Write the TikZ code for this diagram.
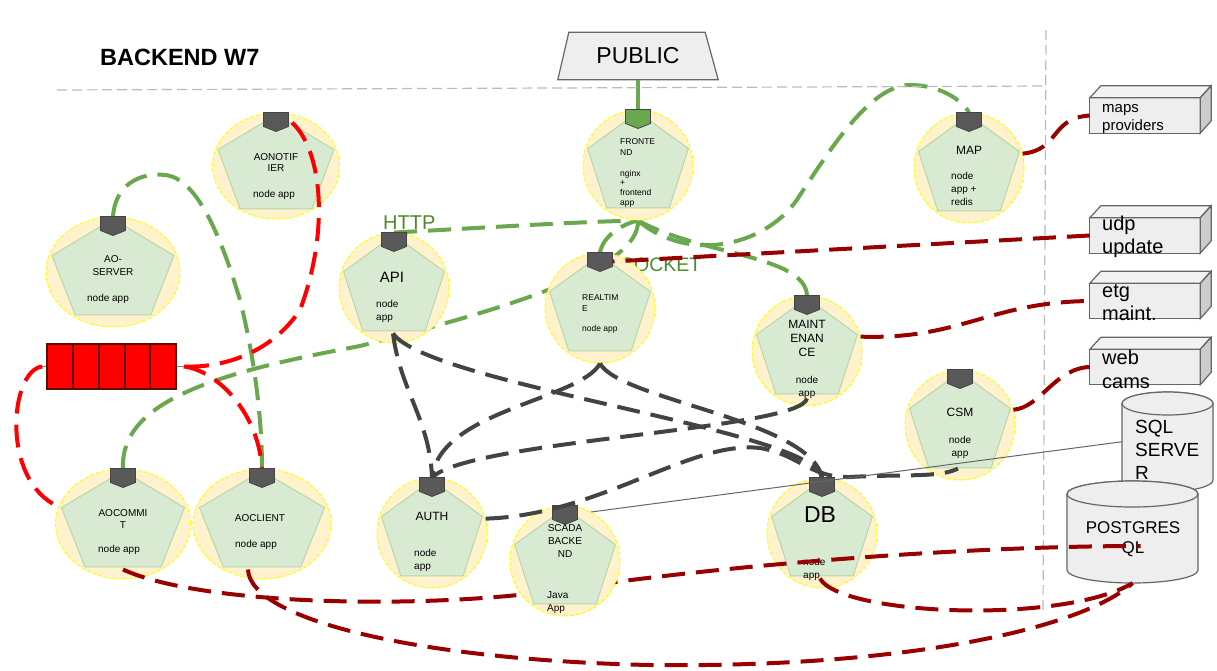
\documentclass[tikz,border=0pt]{standalone}
\usepackage{fontspec}
\setmainfont{Liberation Sans}
\usetikzlibrary{calc,shapes.geometric}
\definecolor{halofill}{HTML}{FFF2CC}
\definecolor{halodraw}{HTML}{FFFF00}
\definecolor{pentfill}{HTML}{D9EAD3}
\definecolor{pentdraw}{HTML}{B6D7A8}
\definecolor{mkfill}{HTML}{595959}
\definecolor{mkdraw}{HTML}{434343}
\definecolor{lgreen}{HTML}{6AA84F}
\definecolor{tgreen}{HTML}{4E8A2A}
\definecolor{dred}{HTML}{990000}
\definecolor{qline}{HTML}{5B0F00}
\definecolor{dgrey}{HTML}{434343}
\definecolor{boxfill}{HTML}{EEEEEE}
\definecolor{boxtop}{HTML}{F3F3F3}
\definecolor{boxside}{HTML}{CCCCCC}
\definecolor{boxdraw}{HTML}{666666}
\definecolor{divcol}{HTML}{BBBBBB}
\pgfdeclarelayer{back}
\pgfsetlayers{back,main}
\newcommand\fsz[2]{\fontsize{#1pt}{#2pt}\selectfont}
\tikzset{
  halo/.style={fill=halofill, draw=halodraw, dash pattern=on 4pt off 2pt, line width=1pt, inner sep=0pt},
  pent/.style={fill=pentfill, draw=pentdraw, line width=1pt},
  mk/.style={draw=mkdraw, line width=0.8pt},
  box/.style={fill=boxfill, draw=boxdraw, line width=1.2pt},
  conn/.style={line width=4pt, dash pattern=on 23pt off 11pt},
  gconn/.style={conn, draw=lgreen},
  rconn/.style={conn, draw=red},
  kconn/.style={conn, draw=dred},
  dconn/.style={conn, draw=dgrey},
  divider/.style={draw=divcol, line width=1.2pt, dash pattern=on 10pt off 5pt},
}
\newcommand\svc[6]{%
  \node[halo, ellipse, minimum width=#3pt, minimum height=#4pt] (#1) at #2 {};
  \begin{scope}[shift={(#1.center)}]
    \filldraw[pent] (0,{-#4/2+2}) -- ({50.4*#5},-16.4) -- ({31.2*#5},42.9) -- ({-31.2*#5},42.9) -- ({-50.4*#5},-16.4) -- cycle;
  \end{scope}
  \begin{scope}[shift={(#1.north)}]
    \filldraw[mk, fill=#6] (-12.5,0) -- (12.5,0) -- (12.5,14) -- (0,19) -- (-12.5,14) -- cycle;
  \end{scope}}
\newcommand\ctext[5]{\node[inner sep=0pt, align=center, font=\fsz{#3}{#4}] (#1) at #2 {#5};}
\newcommand\ltext[5]{\node[inner sep=0pt, align=left, anchor=west, font=\fsz{#3}{#4}] (#1) at #2 {#5};}
\newcommand\tdbox[2]{%
  \node[minimum width=110pt, minimum height=35pt, inner sep=0pt] (#1) at #2 {};
  \filldraw[box] (#1.north west) rectangle (#1.south east);
  \filldraw[box, fill=boxtop] (#1.north west) -- ++(11,-12) -- ++(110,0) -- (#1.north east) -- cycle;
  \filldraw[box, fill=boxside] (#1.north east) -- ++(11,-12) -- ++(0,35) -- (#1.south east) -- cycle;}
\newcommand\cyl[4]{%
  \begin{scope}[shift={(#1.center)}]
    \filldraw[box] (-#2,-#3) -- (-#2,#3) arc[start angle=180, end angle=0, x radius=#2, y radius=#4] -- (#2,-#3) arc[start angle=0, end angle=-180, x radius=#2, y radius=#4] -- cycle;
    \filldraw[box] (0,-#3) ellipse[x radius=#2, y radius=#4];
  \end{scope}}
\begin{document}
\begin{tikzpicture}[x=1pt,y=-1pt]
\useasboundingbox (0,0) rectangle (1217,670);
% title and dividers
\node[anchor=west, inner sep=0pt, font=\bfseries\fsz{23.5}{28}] (title) at (100,57) {BACKEND W7};
\draw[divider] (57,90) -- (1046,86);
\draw[divider] (1046,30) -- (1043,612);
% public
\node[minimum width=160pt, minimum height=47pt, inner sep=0pt, font=\fsz{23}{23}] (pub) at (638,56) {PUBLIC};
\begin{pgfonlayer}{back}
\filldraw[box] ($(pub.north west)+(11,0)$) -- ($(pub.north east)+(-13,0)$) -- (pub.south east) -- (pub.south west) -- cycle;
\end{pgfonlayer}
% external boxes
\tdbox{maps}{(1145,115.5)}
\tdbox{udp}{(1145,235.5)}
\tdbox{etg}{(1145,301)}
\tdbox{web}{(1145,367)}
\ltext{mapsT}{(1102,119)}{15}{18}{maps\\providers}
\ltext{udpT}{(1102,237)}{20}{23}{udp\\update}
\ltext{etgT}{(1102,303)}{20}{23}{etg\\maint.}
\ltext{webT}{(1102,369)}{20}{24}{web\\cams}
% databases
\node[minimum width=91pt, minimum height=99.5pt, inner sep=0pt] (sql) at (1167.5,441.75) {};
\cyl{sql}{45.5}{38.25}{11.5}
\ltext{sqlT}{(1135,450)}{19}{23}{SQL\\SERVE\\R}
\node[minimum width=131pt, minimum height=102pt, inner sep=0pt] (pg) at (1132.5,532) {};
\cyl{pg}{65.5}{38}{13}
\ctext{pgT}{(1133,539)}{17}{20}{POSTGRES\\QL}
% queue
\node[minimum width=129pt, minimum height=45pt, inner sep=0pt, fill=red, draw=qline, line width=1.5pt] (q) at (111.5,366.5) {};
\foreach \qx in {73,99,125,150} \draw[qline, line width=2pt] (\qx,344) -- (\qx,389);
\draw[gray, line width=1pt] (q.west) -- ++(-5,0);
\draw[gray, line width=1pt] (q.east) -- ++(7,0);
% protocol labels
\node[anchor=west, inner sep=0pt, text=tgreen, font=\fsz{20}{20}] (http) at (383,223) {HTTP};
\node[inner sep=0pt, text=tgreen, font=\fsz{19.5}{19.5}] (ws) at (639,265) {WEBSOCKET};
% services
\svc{aonot}{(276,166)}{127}{106}{1.15}{mkfill}
\ctext{aonotT}{(276,162.5)}{10}{11.5}{AONOTIF\\IER}
\ctext{aonotS}{(274,195)}{10}{12}{node app}
\svc{aoserver}{(113,272)}{134}{110}{1.21}{mkfill}
\ctext{aoserverT}{(113,265.5)}{10}{13}{AO-\\SERVER}
\ctext{aoserverS}{(108,299)}{10}{12}{node app}
\svc{aocommit}{(123,524)}{135}{110}{1.22}{mkfill}
\ctext{aocommitT}{(123,519)}{10}{12}{AOCOMMI\\T}
\ctext{aocommitS}{(119,550)}{10}{12}{node app}
\svc{aoclient}{(262,524)}{138}{110}{1.24}{mkfill}
\ctext{aoclientT}{(260,518)}{10}{12}{AOCLIENT}
\ctext{aoclientS}{(256,545)}{10}{12}{node app}
\svc{api}{(394,288)}{110}{110}{1}{mkfill}
\ctext{apiT}{(392,277)}{15}{15}{API}
\ltext{apiS}{(376,311.5)}{10}{13}{node\\app}
\svc{front}{(638,165)}{110}{110}{1}{lgreen}
\ltext{frontT}{(620,147.5)}{8.5}{11}{FRONTE\\ND}
\ltext{frontS}{(620,188.5)}{8.5}{9.7}{nginx\\+\\frontend\\app}
\svc{rt}{(600,308)}{110}{110}{1}{mkfill}
\ltext{rtT}{(582,303.5)}{8.5}{11}{REALTIM\\E}
\ltext{rtS}{(582,329)}{8.5}{10}{node app}
\svc{map}{(969,168)}{110}{110}{1}{mkfill}
\ctext{mapT}{(969,150)}{12}{12}{MAP}
\ltext{mapS}{(951,189)}{10}{13}{node\\app +\\redis}
\svc{maint}{(807,351)}{110}{110}{1}{mkfill}
\ctext{maintT}{(807,338.5)}{12}{14}{MAINT\\ENAN\\CE}
\ctext{maintS}{(807,387)}{10}{13}{node\\app}
\svc{csm}{(960,425)}{110}{110}{1}{mkfill}
\ctext{csmT}{(960,412.5)}{12}{12}{CSM}
\ctext{csmS}{(960,447.5)}{10}{13}{node\\app}
\svc{auth}{(432,533)}{110}{110}{1}{mkfill}
\ctext{authT}{(432,516)}{12}{12}{AUTH}
\ltext{authS}{(414,560.5)}{10}{13}{node\\app}
\svc{db}{(822,533)}{110}{110}{1}{mkfill}
\ctext{dbT}{(820,515)}{23}{23}{DB}
\ltext{dbS}{(803,569.5)}{10}{13}{node\\app}
% connector passing over DB but under SCADA
\draw[kconn] ($(aocommit.south)+(0,-10)$) .. controls (200,605) and (420,610) .. (560,590) .. controls (700,568) and (950,546) .. ($(pg.center)+(8,14)$);
\svc{scada}{(565,561)}{110}{110}{1}{mkfill}
\ctext{scadaT}{(565,541)}{10}{13}{SCADA\\BACKE\\ND}
\ltext{scadaS}{(547,602.5)}{10}{13}{Java\\App}
% connectors under the nodes
\begin{pgfonlayer}{back}
\draw[lgreen, line width=4pt] (pub.south) -- (front.north);
\draw[gconn] (api.north) .. controls (480,228) and (570,222) .. (front.south);
\draw[gconn] (rt.north) .. controls (603,236) and (622,224) .. (front.south);
\draw[gconn] (aocommit.north) .. controls (120,400) and (220,372) .. (360,346) .. controls (500,310) and (640,270) .. (front.south);
\draw[gconn] (front.south) .. controls (700,255) and (805,255) .. (maint.north);
\draw[gconn] (front.south) .. controls (690,265) and (770,245) .. (800,195) .. controls (830,150) and (870,85) .. (910,85) .. controls (940,85) and (962,100) .. (map.north);
\draw[gconn] (aoserver.north) .. controls (115,185) and (140,172) .. (165,175) .. controls (200,178) and (225,250) .. (240,300) .. controls (255,360) and (262,420) .. (aoclient.north);
\draw[rconn] ($(q.east)+(7,0)$) .. controls (215,370) and (258,410) .. (aoclient.north);
\end{pgfonlayer}
% connectors over the nodes
\draw[rconn] ($(aonot.north)+(16,10)$) .. controls (322,150) and (330,230) .. (300,310) .. controls (270,355) and (220,368) .. ($(q.east)+(7,0)$);
\draw[rconn] ($(q.west)+(-4,0)$) .. controls (10,370) and (0,480) .. (aocommit.165);
\draw[dconn] ($(api.south)+(-1,-10)$) .. controls (400,390) and (430,420) .. (auth.north);
\draw[dconn] ($(api.south)+(-1,-10)$) .. controls (430,385) and (815,430) .. (db.north);
\draw[dconn] (rt.south) .. controls (580,400) and (440,410) .. (auth.north);
\draw[dconn] (rt.south) .. controls (620,400) and (810,420) .. (db.north);
\draw[dconn] ($(maint.south)+(0,-8)$) .. controls (800,430) and (470,440) .. (auth.north);
\draw[dconn] (auth.15) .. controls (600,515) and (690,440) .. (760,448) .. controls (800,455) and (810,478) .. (850,477) .. controls (900,474) and (940,478) .. ($(csm.south)+(-2,-12)$);
\draw[boxdraw, line width=1pt] (scada.62) -- (sql.west);
\draw[kconn] (map.15) .. controls (1060,150) and (1050,118) .. (maps.west);
\draw[kconn] (udp.west) -- ($(rt.north)+(12.5,9)$);
\draw[kconn] (maint.15) .. controls (960,340) and (990,302) .. (etg.west);
\draw[kconn] (csm.16) .. controls (1040,408) and (1055,368) .. (web.west);
\draw[kconn] ($(aoclient.south)+(-14,-10)$) .. controls (250,620) and (420,660) .. (650,665) .. controls (900,668) and (1080,630) .. (pg.south);
\draw[kconn] ($(db.south)+(-2,-10)$) .. controls (840,615) and (1060,625) .. (pg.south);
\end{tikzpicture}
\end{document}
